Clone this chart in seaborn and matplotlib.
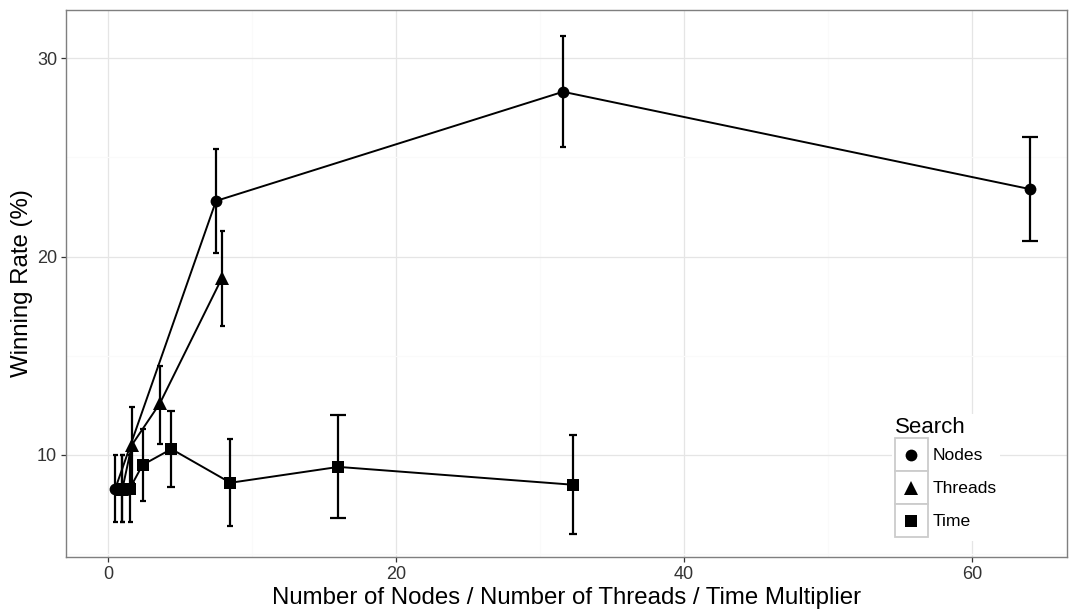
import pandas as pd
import seaborn as sns
import matplotlib.pyplot as plt
from matplotlib.legend_handler import HandlerLine2D
from matplotlib.lines import Line2D
from matplotlib.patches import Rectangle
from matplotlib.ticker import MultipleLocator


# values
nodes_x = [0.5, 7.5, 31.6, 64.0]
nodes_rate = [8.3, 22.8, 28.3, 23.4]
nodes_lo = [6.6, 20.2, 25.5, 20.8]
nodes_hi = [10.0, 25.4, 31.1, 26.0]

threads_x = [1.0, 1.65, 3.6, 7.9]
threads_rate = [8.3, 10.5, 12.6, 18.9]
threads_lo = [6.6, 8.6, 10.55, 16.5]
threads_hi = [10.0, 12.4, 14.5, 21.3]

time_x = [1.0, 1.5, 2.4, 4.4, 8.5, 16.0, 32.3]
time_rate = [8.3, 8.3, 9.5, 10.3, 8.6, 9.4, 8.5]
time_lo = [6.6, 6.6, 7.7, 8.4, 6.4, 6.8, 6.0]
time_hi = [10.0, 10.0, 11.3, 12.2, 10.8, 12.0, 11.0]

# half cap width (points) for each error bar, same order as above
caps = [1.8, 2.2, 2.5, 5.7,
        1.8, 2.5, 2.5, 1.8,
        1.8, 1.8, 2.5, 2.9, 2.2, 5.7, 2.9]

searches = ['Nodes', 'Threads', 'Time']
shapes = {'Nodes': 'o', 'Threads': '^', 'Time': 's'}
shape_size = {'o': 8.5, '^': 10.5, 's': 8.0}

df = pd.concat([
    pd.DataFrame({'x': nodes_x, 'rate': nodes_rate, 'lo': nodes_lo, 'hi': nodes_hi, 'Search': 'Nodes'}),
    pd.DataFrame({'x': threads_x, 'rate': threads_rate, 'lo': threads_lo, 'hi': threads_hi, 'Search': 'Threads'}),
    pd.DataFrame({'x': time_x, 'rate': time_rate, 'lo': time_lo, 'hi': time_hi, 'Search': 'Time'}),
], ignore_index=True)
df['cap'] = caps


class KeyBox(HandlerLine2D):
    # ggplot style legend key: marker centred inside a grey bordered square
    def create_artists(self, legend, orig_handle, xdescent, ydescent, width, height, fontsize, trans):
        box = Rectangle((-xdescent, -ydescent), width, height, facecolor='white',
                        edgecolor='#CCCCCC', lw=1.3, transform=trans)
        arts = super().create_artists(legend, orig_handle, xdescent, ydescent, width, height, fontsize, trans)
        for a in arts:
            a.set_ydata([height / 2 - ydescent] * len(a.get_xdata()))
        return [box] + arts


sns.set_theme(style='white')
plt.rcParams['font.family'] = ['Liberation Sans', 'DejaVu Sans']

fig = plt.figure(figsize=(10.76, 6.11), dpi=100)
ax = fig.add_axes([66 / 1076, 54 / 611, 1001 / 1076, 547 / 611])

for _, row in df.iterrows():
    ax.errorbar(row['x'], row['rate'], yerr=[[row['rate'] - row['lo']], [row['hi'] - row['rate']]],
                fmt='none', ecolor='black', elinewidth=1.6, capsize=row['cap'], capthick=1.6, zorder=2)

sns.lineplot(data=df, x='x', y='rate', style='Search', style_order=searches, markers=shapes,
             dashes=False, color='black', estimator=None, sort=True, lw=1.4, markersize=9,
             markeredgewidth=0, legend=False, ax=ax, zorder=3)
for ln in ax.lines:
    if ln.get_marker() in shape_size:
        ln.set_markersize(shape_size[ln.get_marker()])

ax.set_xlim(-2.92, 66.6)
ax.set_ylim(4.86, 32.42)
ax.xaxis.set_major_locator(MultipleLocator(20))
ax.xaxis.set_minor_locator(MultipleLocator(10))
ax.yaxis.set_major_locator(MultipleLocator(10))
ax.yaxis.set_minor_locator(MultipleLocator(5))

ax.set_axisbelow(True)
ax.grid(which='major', color='#E5E5E5', lw=0.9)
ax.grid(which='minor', color='#FAFAFA', lw=0.9)
ax.tick_params(which='major', direction='out', length=3.4, width=0.9, color='#333333',
               labelsize=13, labelcolor='#333333', pad=3, bottom=True, left=True)
ax.tick_params(which='minor', length=0)
for sp in ax.spines.values():
    sp.set_color('#7F7F7F')
    sp.set_linewidth(1.0)

ax.set_xlabel('Number of Nodes / Number of Threads / Time Multiplier', fontsize=17.3, color='black', labelpad=3)
ax.set_ylabel('Winning Rate (%)', fontsize=17.3, color='black', labelpad=3)

handles = [Line2D([], [], marker=shapes[s], color='black', linestyle='none',
                  markersize=shape_size[shapes[s]], markeredgewidth=0) for s in searches]
leg = ax.legend(handles, searches, title='Search', loc='lower left', bbox_to_anchor=(0.8247, 0.030),
                borderaxespad=0, borderpad=0.2, fontsize=12.6, title_fontsize=16,
                handlelength=1.88, handleheight=2.52, labelspacing=0, handletextpad=0.25,
                alignment='left', frameon=True, fancybox=False, edgecolor='none', facecolor='white',
                framealpha=1, labelcolor='black', handler_map={Line2D: KeyBox(numpoints=1)})
leg.get_title().set_color('black')

fig.savefig('out.png', dpi=100)
